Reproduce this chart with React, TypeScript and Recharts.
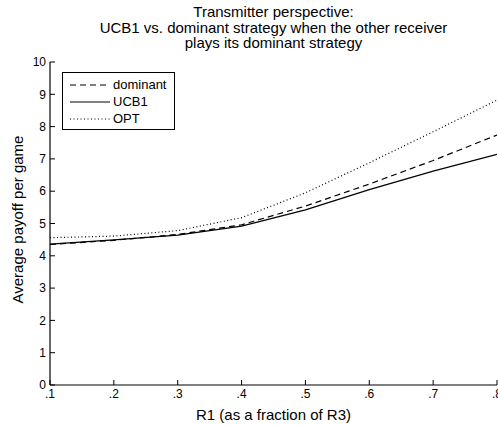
import { LineChart, Line, XAxis, YAxis, Legend } from "recharts";

const rValues = [0.1, 0.2, 0.3, 0.4, 0.5, 0.6, 0.7, 0.8];
const dominant = [4.35, 4.48, 4.66, 4.96, 5.54, 6.22, 6.95, 7.74];
const ucb1 = [4.36, 4.49, 4.64, 4.92, 5.42, 6.05, 6.62, 7.14];
const opt = [4.56, 4.61, 4.78, 5.18, 5.95, 6.88, 7.84, 8.82];
const yTicks = [0, 1, 2, 3, 4, 5, 6, 7, 8, 9, 10];

const titleLines = [
  "Transmitter perspective:",
  "UCB1 vs. dominant strategy when the other receiver",
  "plays its dominant strategy",
];

const series = [
  { key: "dominant", name: "dominant", dash: "6 4" },
  { key: "ucb1", name: "UCB1", dash: undefined },
  { key: "opt", name: "OPT", dash: "1 2.5" },
];

const data = rValues.map((r, i) => ({
  r,
  dominant: dominant[i],
  ucb1: ucb1[i],
  opt: opt[i],
}));

const font = "'Liberation Sans', Arial, Helvetica, sans-serif";
const fmtR = (v: number) => v.toFixed(1).replace(/^0/, "");

function LegendBox() {
  return (
    <div
      style={{
        border: "1px solid #000",
        background: "#fff",
        padding: "3px 8px 2px 6px",
        fontFamily: font,
        fontSize: 13,
        lineHeight: "17px",
      }}
    >
      {series.map((s) => (
        <div key={s.key} style={{ display: "flex", alignItems: "center" }}>
          <svg width={42} height={17}>
            <line
              x1={1}
              x2={41}
              y1={9}
              y2={9}
              stroke="#000"
              strokeWidth={1.1}
              strokeDasharray={s.dash}
            />
          </svg>
          <span style={{ marginLeft: 2 }}>{s.name}</span>
        </div>
      ))}
    </div>
  );
}

export default function App() {
  return (
    <div
      style={{
        position: "absolute",
        left: 0,
        top: 0,
        width: 498,
        height: 425,
        background: "#fff",
        fontFamily: font,
      }}
    >
      <div
        style={{
          position: "absolute",
          left: 50,
          width: 447,
          top: 4,
          textAlign: "center",
          fontSize: 15,
          lineHeight: "15.5px",
          color: "#000",
        }}
      >
        {titleLines.map((t) => (
          <div key={t}>{t}</div>
        ))}
      </div>
      <LineChart
        width={498}
        height={425}
        data={data}
        margin={{ top: 62, right: 1, bottom: 0, left: 0 }}
        style={{ position: "absolute", left: 0, top: 0 }}
      >
        <XAxis
          dataKey="r"
          type="number"
          domain={[0.1, 0.8]}
          ticks={rValues}
          tickFormatter={fmtR}
          height={40}
          tickSize={-5}
          tickMargin={9}
          axisLine={{ stroke: "#000", strokeWidth: 1.2 }}
          tickLine={{ stroke: "#000" }}
          tick={{ fill: "#000", fontSize: 12, fontFamily: font }}
          interval={0}
          allowDataOverflow
          label={{
            value: "R1 (as a fraction of R3)",
            position: "insideBottom",
            offset: 5,
            fill: "#000",
            fontSize: 15,
            fontFamily: font,
          }}
        />
        <XAxis
          xAxisId="top"
          dataKey="r"
          type="number"
          orientation="top"
          domain={[0.1, 0.8]}
          ticks={rValues}
          height={0}
          tickSize={-5}
          tick={false}
          axisLine={{ stroke: "#000", strokeWidth: 1.2 }}
          tickLine={{ stroke: "#000" }}
          interval={0}
        />
        <YAxis
          type="number"
          domain={[0, 10]}
          ticks={yTicks}
          width={50}
          tickSize={-5}
          tickMargin={9}
          axisLine={{ stroke: "#000", strokeWidth: 1.2 }}
          tickLine={{ stroke: "#000" }}
          tick={{ fill: "#000", fontSize: 12, fontFamily: font }}
          interval={0}
          label={{
            value: "Average payoff per game",
            angle: -90,
            position: "insideLeft",
            offset: 18,
            dy: -4,
            fill: "#000",
            fontSize: 15,
            fontFamily: font,
            style: { textAnchor: "middle" },
          }}
        />
        <YAxis
          yAxisId="right"
          orientation="right"
          type="number"
          domain={[0, 10]}
          ticks={yTicks}
          width={0}
          tickSize={-5}
          tick={false}
          axisLine={{ stroke: "#000", strokeWidth: 1.2 }}
          tickLine={{ stroke: "#000" }}
          interval={0}
        />
        <Legend
          layout="vertical"
          align="center"
          verticalAlign="middle"
          content={() => <LegendBox />}
          wrapperStyle={{ position: "absolute", left: 62, top: 72, width: "auto" }}
        />
        {series.map((s) => (
          <Line
            key={s.key}
            dataKey={s.key}
            name={s.name}
            type="linear"
            stroke="#000"
            strokeWidth={1.2}
            strokeDasharray={s.dash}
            dot={false}
            activeDot={false}
            isAnimationActive={false}
          />
        ))}
      </LineChart>
    </div>
  );
}
